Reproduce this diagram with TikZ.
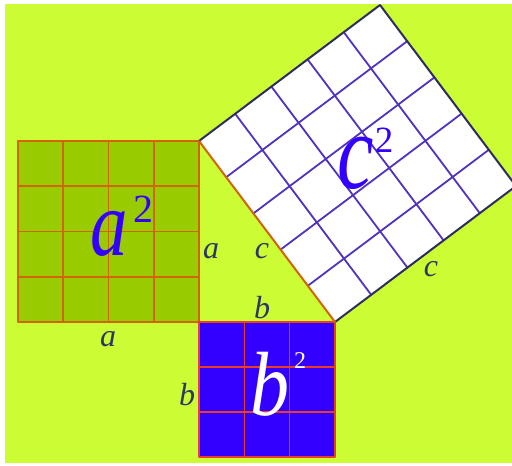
\documentclass[tikz,border=0pt]{standalone}
\usepackage{fontspec}
\setmainfont{Liberation Serif}
\usetikzlibrary{calc}
\definecolor{nen}{RGB}{204,252,51}
\definecolor{xanhla}{RGB}{153,204,0}
\definecolor{cam}{RGB}{210,100,10}
\definecolor{do}{RGB}{235,60,40}
\definecolor{xanhduong}{RGB}{51,0,255}
\definecolor{luoi}{RGB}{80,50,190}
\definecolor{vien}{RGB}{45,45,95}
\definecolor{chu}{RGB}{45,55,100}
\begin{document}
\begin{tikzpicture}[x=1pt,y=-1pt,line join=round,line cap=round,
	nhan/.style={text=chu,anchor=base,inner sep=0pt,font=\fontsize{32}{32}\selectfont\itshape},
	somu/.style={anchor=base,inner sep=0pt}]
	\useasboundingbox (0,0) rectangle (512,466);
	% Nền
	\fill[white] (0,0) rectangle (512,466);
	\fill[nen] (5,4) rectangle (512,463);
	% Các đỉnh
	\path (199,141) coordinate (A)
	(199,322) coordinate (C)
	(335,322) coordinate (B)
	(18,141) coordinate (P)
	(18,322) coordinate (Q)
	(199,457) coordinate (R)
	(335,457) coordinate (S)
	($(A)+(181,-136)$) coordinate (E)
	($(B)+(181,-136)$) coordinate (D)
	;
	% Hình vuông a^2
	\fill[xanhla] (P) rectangle (C);
	\foreach \i in {1,2,3}
	\draw[cam,line width=1.7pt] ($(P)!\i/4!(Q)$) -- ($(A)!\i/4!(C)$)
	($(P)!\i/4!(A)$) -- ($(Q)!\i/4!(C)$);
	\draw[cam,line width=1.8pt] (P) rectangle (C);
	% Hình vuông b^2
	\fill[xanhduong] (C) rectangle (S);
	\foreach \i in {1,2}
	\draw[do,line width=1.6pt] ($(C)!\i/3!(R)$) -- ($(B)!\i/3!(S)$)
	($(C)!\i/3!(B)$) -- ($(R)!\i/3!(S)$);
	\draw[do,line width=1.8pt] (C) rectangle (S);
	% Hình vuông c^2
	\fill[white] (A)--(B)--(D)--(E)--cycle;
	\foreach \i in {1,2,3,4}
	\draw[luoi,line width=1.8pt] ($(A)!\i/5!(B)$) -- ($(E)!\i/5!(D)$)
	($(A)!\i/5!(E)$) -- ($(B)!\i/5!(D)$);
	\draw[vien,line width=2pt] (B)--(D)--(E)--(A);
	\draw[cam,line width=2pt] (A)--(B);
	% Chữ lớn
	\node[somu,text=xanhduong,font=\fontsize{75}{75}\selectfont\itshape] (chuA) at (109,255) {\scalebox{1}[1.25]{a}};
	\node[somu,text=xanhduong,font=\fontsize{40}{40}\selectfont] (muA) at (143,222) {2};
	\node[somu,text=white,font=\fontsize{78}{78}\selectfont\itshape] (chuB) at (270,415) {\scalebox{1}[1.17]{b}};
	\node[somu,text=white,font=\fontsize{24}{24}\selectfont] (muB) at (300,368) {2};
	\node[somu,text=xanhduong,font=\fontsize{82}{82}\selectfont\itshape] (chuC) at (356,188) {\scalebox{1}[1.33]{c}};
	\node[somu,text=xanhduong,font=\fontsize{37}{37}\selectfont] (muC) at (384,152) {2};
	% Nhãn cạnh
	\node[nhan] (nA1) at (211,258) {a};
	\node[nhan] (nA2) at (108,346) {a};
	\node[nhan] (nC1) at (262,258) {c};
	\node[nhan] (nC2) at (431,276) {c};
	\node[nhan] (nB1) at (262,318) {b};
	\node[nhan] (nB2) at (187,405) {b};
\end{tikzpicture}
\end{document}
